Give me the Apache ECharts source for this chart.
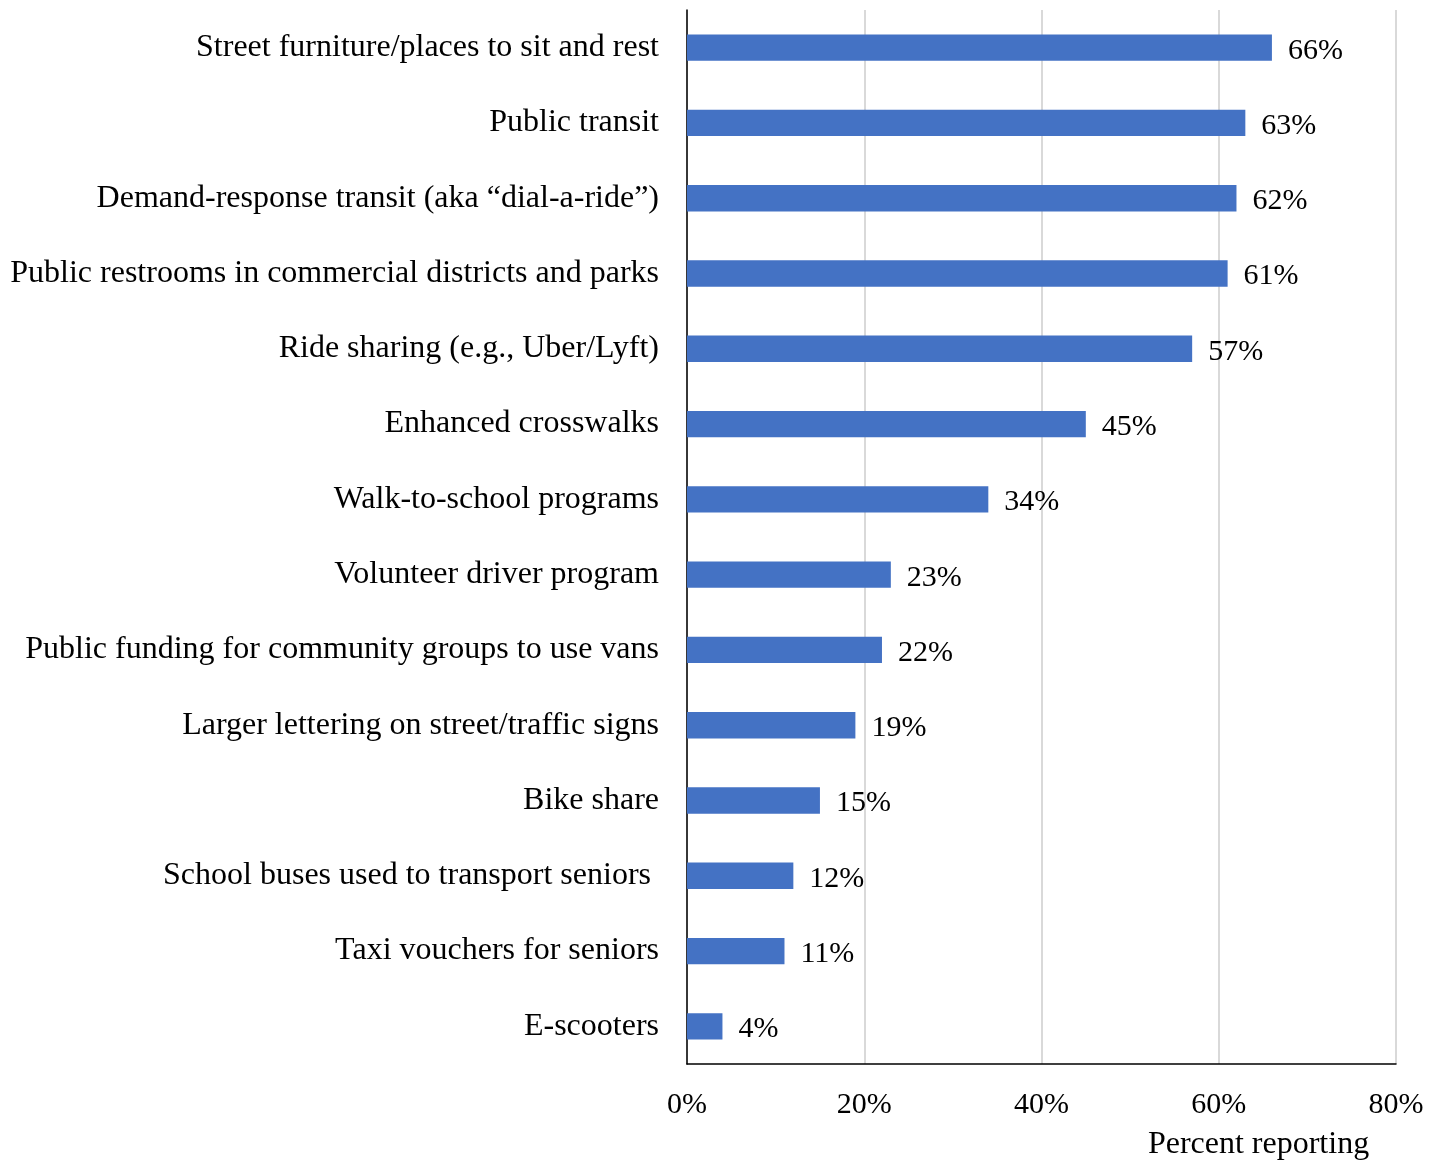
<!DOCTYPE html>
<html>
<head>
<meta charset="utf-8">
<script src="https://cdn.jsdelivr.net/npm/echarts@6/dist/echarts.min.js"></script>
<style>
html,body{margin:0;padding:0;background:#fff;}
#chart{width:1442px;height:1162px;}
</style>
</head>
<body>
<div id="chart"></div>
<script>
const categories = [
  "Street furniture/places to sit and rest",
  "Public transit",
  "Demand-response transit (aka \u201cdial-a-ride\u201d)",
  "Public restrooms in commercial districts and parks",
  "Ride sharing (e.g., Uber/Lyft)",
  "Enhanced crosswalks",
  "Walk-to-school programs",
  "Volunteer driver program",
  "Public funding for community groups to use vans",
  "Larger lettering on street/traffic signs",
  "Bike share",
  "School buses used to transport seniors ",
  "Taxi vouchers for seniors",
  "E-scooters"
];
const values = [66, 63, 62, 61, 57, 45, 34, 23, 22, 19, 15, 12, 11, 4];
const xTicks = [0, 20, 40, 60, 80];
const xAxisTitle = "Percent reporting";

const font = "'Liberation Serif', 'Times New Roman', serif";
const chart = echarts.init(document.getElementById('chart'));
chart.setOption({
  animation: false,
  textStyle: { fontFamily: font },
  grid: { left: 687, right: 46, top: 10, bottom: 98, containLabel: false, outerBoundsMode: 'none' },
  xAxis: {
    type: 'value',
    min: xTicks[0],
    max: xTicks[xTicks.length - 1],
    interval: xTicks[1] - xTicks[0],
    axisLine: { show: true, lineStyle: { color: '#000', width: 1.5 } },
    axisTick: { show: false },
    axisLabel: { formatter: v => v + '%', color: '#000', fontSize: 30, fontFamily: font, margin: 26 },
    splitLine: { show: true, lineStyle: { color: '#d9d9d9', width: 2 } },
    name: xAxisTitle,
    nameLocation: 'middle',
    nameGap: 65,
    nameTextStyle: { color: '#000', fontSize: 32, fontFamily: font, padding: [0, 0, 0, 434] }
  },
  yAxis: {
    type: 'category',
    inverse: true,
    data: categories,
    axisLine: { show: true, lineStyle: { color: '#000', width: 1.5 } },
    axisTick: { show: false },
    axisLabel: { color: '#000', fontSize: 32, fontFamily: font, margin: 28, padding: [2, 0, 0, 0] },
    splitLine: { show: false }
  },
  series: [{
    type: 'bar',
    data: values,
    barCategoryGap: '65%',
    itemStyle: { color: '#4472C4' },
    label: {
      show: true,
      position: 'right',
      distance: 16,
      formatter: p => p.value + '%',
      color: '#000',
      fontSize: 30,
      fontFamily: font,
      offset: [0, 3]
    }
  }]
});
</script>
</body>
</html>
